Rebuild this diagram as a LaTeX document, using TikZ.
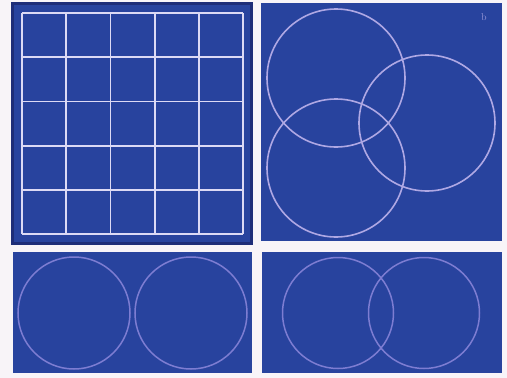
\documentclass[tikz,border=0pt]{standalone}
\usepackage{tikz}
\definecolor{bgc}{RGB}{248,244,248}
\definecolor{panel}{RGB}{40,67,158}
\definecolor{panedge}{RGB}{30,45,120}
\definecolor{gridc}{RGB}{220,218,245}
\definecolor{circA}{RGB}{175,168,228}
\definecolor{circB}{RGB}{125,125,210}
\tikzset{
  gridline/.style={draw=gridc,line width=1.8pt},
  vennA/.style={draw=circA,line width=1.6pt},
  vennB/.style={draw=circB,line width=1.5pt},
}
\begin{document}
\begin{tikzpicture}[x=1pt,y=-1pt]
\fill[bgc] (0,0) rectangle (507,378);
\useasboundingbox (0,0) rectangle (507,378);
% panel 1 grid
\fill[panedge] (11,2) rectangle (253,245);
\fill[panel] (14,5) rectangle (250,242);
\foreach \i in {0,...,5} {
  \draw[gridline] ({22+44.2*\i},13) -- ({22+44.2*\i},234);
  \draw[gridline] (22,{13+44.2*\i}) -- (243,{13+44.2*\i});
}
% panel 2 three circles
\fill[panel] (261,3) rectangle (502,241);
\draw[vennA] (336,78) circle (69);
\draw[vennA] (427,123) circle (68);
\draw[vennA] (336,168) circle (69);
\node[text=circA!80!panel,font=\normalsize,inner sep=0pt] (lb) at (484,17) {b};
% panel 3 two disjoint circles
\fill[panel] (13,252) rectangle (252,373);
\draw[vennB] (74,313) circle (56);
\draw[vennB] (191,313) circle (56);
% panel 4 two overlapping circles
\fill[panel] (262,252) rectangle (502,373);
\draw[vennB] (338,313) circle (55.5);
\draw[vennB] (424,313) circle (55.5);
\end{tikzpicture}
\end{document}
